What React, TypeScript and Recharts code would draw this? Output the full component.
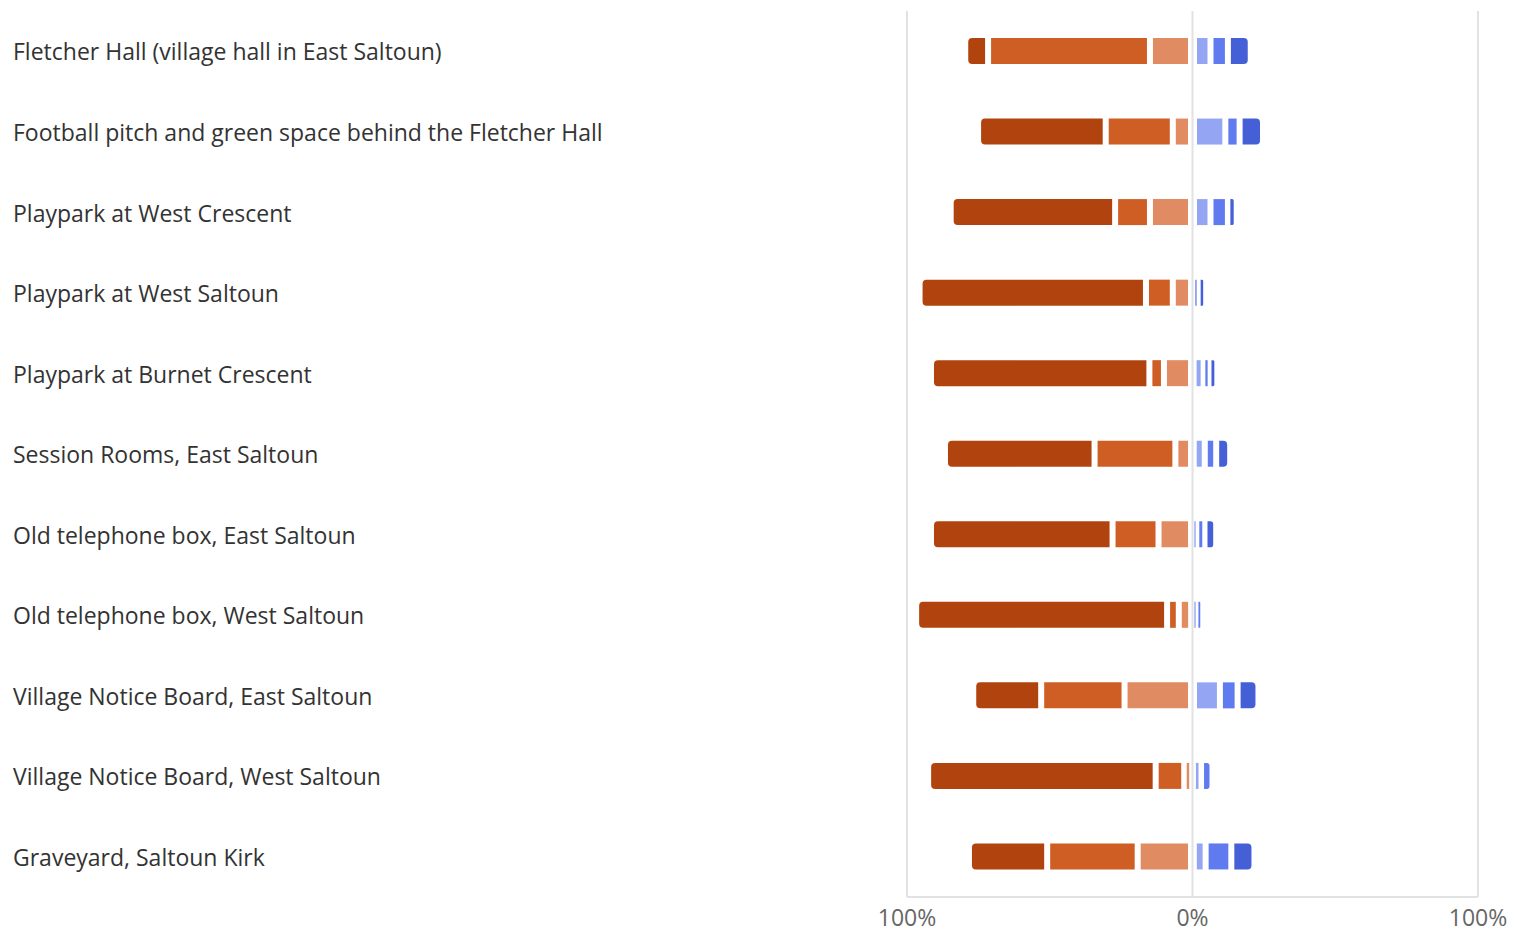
import React from 'react';
import { BarChart, Bar, XAxis, YAxis, CartesianGrid } from 'recharts';

// places asked about in the survey
const places = [
  'Fletcher Hall (village hall in East Saltoun)',
  'Football pitch and green space behind the Fletcher Hall',
  'Playpark at West Crescent',
  'Playpark at West Saltoun',
  'Playpark at Burnet Crescent',
  'Session Rooms, East Saltoun',
  'Old telephone box, East Saltoun',
  'Old telephone box, West Saltoun',
  'Village Notice Board, East Saltoun',
  'Village Notice Board, West Saltoun',
  'Graveyard, Saltoun Kirk',
];

// share of answers in percent, left side (drawn to the left of 0%)
const negStrong = [8.0, 44.7, 57.6, 79.3, 76.5, 52.4, 63.6, 87.9, 23.8, 79.7, 27.4];
const negMid = [56.7, 23.5, 12.2, 9.4, 5.1, 28.3, 16.1, 4.1, 29.2, 10.0, 31.7];
const negWeak = [14.9, 6.9, 14.9, 6.9, 10.0, 6.0, 11.9, 4.8, 23.8, 2.9, 19.2];

// right side (drawn to the right of 0%)
const posWeak = [6.3, 11.5, 6.3, 2.2, 3.9, 4.3, 1.6, 1.6, 9.6, 3.0, 4.6];
const posMid = [6.1, 5.0, 6.1, 0, 2.0, 4.0, 2.6, 1.6, 6.2, 4.0, 9.0];
const posStrong = [8.0, 8.2, 2.9, 2.2, 2.5, 4.9, 4.1, 0, 7.3, 0, 8.1];

const axisTicks = [-100, 0, 100];

const data = places.map((name, i) => ({
  name,
  negWeak: -negWeak[i],
  negMid: -negMid[i],
  negStrong: -negStrong[i],
  posWeak: posWeak[i],
  posMid: posMid[i],
  posStrong: posStrong[i],
}));

const COLORS = {
  negStrong: '#b1440e',
  negMid: '#cf5e24',
  negWeak: '#e08b62',
  posWeak: '#93a5f3',
  posMid: '#5f7bef',
  posStrong: '#4560d6',
};

const posOrder = ['posWeak', 'posMid', 'posStrong'];

// which end of the segment gets rounded corners
const roundSide = (key: string, row: any): 'left' | 'right' | null => {
  if (key === 'negStrong') return 'left';
  if (key.startsWith('pos')) {
    const idx = posOrder.indexOf(key);
    const rest = posOrder.slice(idx + 1).some((k) => row[k] > 0);
    return rest ? null : 'right';
  }
  return null;
};

const Segment = (props: any) => {
  const { x, y, width, height, fill, dataKey, payload } = props;
  let x0 = width < 0 ? x + width : x;
  let w = Math.abs(width);
  if (!w || !height) return null;
  const gap = Math.min(3, w * 0.3);
  // a little more room next to the 0% line
  const extraL = dataKey === 'posWeak' ? Math.min(1.5, w * 0.1) : 0;
  const extraR = dataKey === 'negWeak' ? Math.min(1.5, w * 0.1) : 0;
  x0 += gap + extraL;
  w -= gap * 2 + extraL + extraR;
  const x1 = x0 + w;
  const h = height;
  const side = roundSide(dataKey, payload);
  const r = side ? Math.min(4, w / 2, h / 2) : 0;
  let d;
  if (side === 'left') {
    d = `M${x0 + r},${y} H${x1} V${y + h} H${x0 + r} A${r},${r} 0 0 1 ${x0},${y + h - r} V${y + r} A${r},${r} 0 0 1 ${x0 + r},${y} Z`;
  } else if (side === 'right') {
    d = `M${x0},${y} H${x1 - r} A${r},${r} 0 0 1 ${x1},${y + r} V${y + h - r} A${r},${r} 0 0 1 ${x1 - r},${y + h} H${x0} Z`;
  } else {
    d = `M${x0},${y} H${x1} V${y + h} H${x0} Z`;
  }
  return <path d={d} fill={fill} />;
};

const PlaceTick = (props: any) => {
  const { y, payload } = props;
  return (
    <text x={13} y={y} dy="0.4em" textAnchor="start" fill="#333" fontSize={23} fontFamily="'Open Sans', sans-serif">
      {payload.value}
    </text>
  );
};

const PercentTick = (props: any) => {
  const { x, y, payload } = props;
  return (
    <text x={x} y={y} dy={21} textAnchor="middle" fill="#666" fontSize={23} fontFamily="'Open Sans', sans-serif">
      {Math.abs(payload.value)}%
    </text>
  );
};

const seriesKeys = ['negWeak', 'negMid', 'negStrong', 'posWeak', 'posMid', 'posStrong'] as const;

export default function App() {
  return (
    <div style={{ position: 'absolute', left: 0, top: 0, width: 1513, height: 932, background: '#fff' }}>
      <BarChart
        width={1513}
        height={932}
        data={data}
        layout="vertical"
        stackOffset="sign"
        barSize={26}
        margin={{ top: 11, right: 35, left: 0, bottom: 0 }}
      >
        <CartesianGrid horizontal={false} stroke="#e2e2e2" strokeWidth={2} />
        <XAxis
          type="number"
          domain={[-100, 100]}
          ticks={axisTicks}
          height={35}
          tickLine={false}
          axisLine={{ stroke: '#e2e2e2', strokeWidth: 2 }}
          tick={<PercentTick />}
        />
        <YAxis
          type="category"
          dataKey="name"
          width={907}
          axisLine={false}
          tickLine={false}
          tick={<PlaceTick />}
          interval={0}
        />
        {seriesKeys.map((key) => (
          <Bar
            key={key}
            dataKey={key}
            stackId="a"
            fill={COLORS[key]}
            isAnimationActive={false}
            shape={(p: any) => <Segment {...p} dataKey={key} fill={COLORS[key]} />}
          />
        ))}
      </BarChart>
    </div>
  );
}
